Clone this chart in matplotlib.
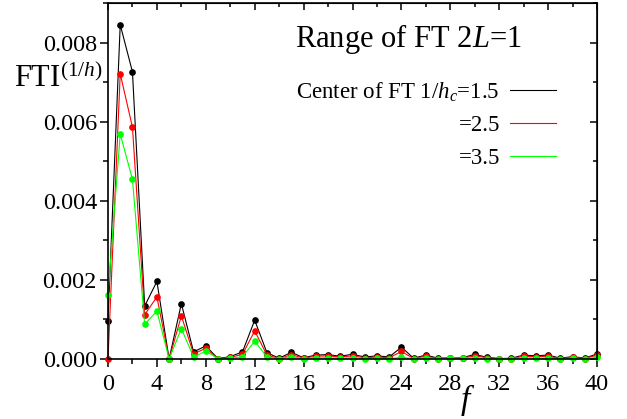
import matplotlib
matplotlib.use("Agg")
import matplotlib.pyplot as plt
from matplotlib.lines import Line2D
from matplotlib.ticker import MultipleLocator, FormatStrFormatter

plt.rcParams['font.family'] = 'serif'
plt.rcParams['font.serif'] = ['Liberation Serif', 'DejaVu Serif']
plt.rcParams['mathtext.fontset'] = 'custom'
plt.rcParams['mathtext.rm'] = 'Liberation Serif'
plt.rcParams['mathtext.it'] = 'Liberation Serif:italic'

f = list(range(0, 41))
fti_15 = [0.00096, 0.00845, 0.00726, 0.00134, 0.00196, 0.0, 0.00140, 0.00018, 0.00033, 0.00001,
          0.00006, 0.00018, 0.00098, 0.00016, 0.00002, 0.00017, 0.00003, 0.00010, 0.00011, 0.00007,
          0.00012, 0.00005, 0.00008, 0.00005, 0.00030, 0.00002, 0.00010, 0.00002, 0.00003, 0.00003,
          0.00012, 0.00004, 0.00001, 0.00002, 0.00010, 0.00008, 0.00010, 0.00002, 0.00006, 0.00002,
          0.00013]
fti_25 = [0.0, 0.00721, 0.00586, 0.00112, 0.00157, 0.0, 0.00109, 0.00013, 0.00027, 0.00001,
          0.00004, 0.00012, 0.00071, 0.00010, 0.00001, 0.00011, 0.00002, 0.00007, 0.00008, 0.00005,
          0.00008, 0.00003, 0.00005, 0.00003, 0.00019, 0.00001, 0.00007, 0.00001, 0.00003, 0.00002,
          0.00008, 0.00003, 0.00001, 0.00001, 0.00007, 0.00006, 0.00007, 0.00001, 0.00004, 0.00001,
          0.00010]
fti_35 = [0.00163, 0.00569, 0.00454, 0.00088, 0.00121, 0.0, 0.00077, 0.00005, 0.00020, 0.00001,
          0.00002, 0.00006, 0.00045, 0.00005, 0.00001, 0.00006, 0.00001, 0.00003, 0.00003, 0.00002,
          0.00003, 0.00001, 0.00002, 0.00001, 0.00004, 0.00001, 0.00003, 0.00001, 0.00003, 0.00002,
          0.00003, 0.00001, 0.00001, 0.00001, 0.00003, 0.00002, 0.00002, 0.00001, 0.00002, 0.00001,
          0.00004]

series = [(fti_15, 'black', 'Center of FT 1/$h_c$=1.5'),
          (fti_25, '#ff0000', '=2.5'),
          (fti_35, '#00ff00', '=3.5')]

fig = plt.figure(figsize=(6.27, 4.19), dpi=100)
ax = fig.add_axes([108/627, 1-359/419, (597-108)/627, (359-3)/419])

for vals, col, lab in series:
    ax.plot(f, vals, color=col, lw=0.8, marker='o', ms=3.8, mec=col, mfc=col, clip_on=False)

ax.set_xlim(0, 40)
ax.set_ylim(0, 0.009)
ax.xaxis.set_major_locator(MultipleLocator(4))
ax.xaxis.set_minor_locator(MultipleLocator(2))
ax.yaxis.set_major_locator(MultipleLocator(0.002))
ax.yaxis.set_minor_locator(MultipleLocator(0.001))
ax.yaxis.set_major_formatter(FormatStrFormatter('%.3f'))
ax.tick_params(which='both', direction='out', labelsize=17.5, width=1.1)
ax.tick_params(axis='x', pad=5)
ax.tick_params(axis='y', pad=2)
ax.tick_params(which='major', length=6)
ax.tick_params(which='minor', length=3.5)
for s in ax.spines.values():
    s.set_linewidth(1.2)

secx = ax.secondary_xaxis('top')
secx.xaxis.set_major_locator(MultipleLocator(4))
secx.xaxis.set_minor_locator(MultipleLocator(2))
secx.tick_params(which='both', direction='in', labeltop=False, width=1.1)
secx.tick_params(which='major', length=5)
secx.tick_params(which='minor', length=3)
secy = ax.secondary_yaxis('right')
secy.yaxis.set_major_locator(MultipleLocator(0.002))
secy.yaxis.set_minor_locator(MultipleLocator(0.001))
secy.tick_params(which='both', direction='in', labelright=False, width=1.1)
secy.tick_params(which='major', length=5)
secy.tick_params(which='minor', length=3)

fig.text(468/627, 1-400/419, '$f$', fontsize=24, ha='center', va='center')
fig.text(14/627, 1-79/419, r'FTI$^{(1/h)}$', fontsize=22, ha='left', va='center')
fig.text(295/627, 1-39/419, 'Range of FT $2L$=1', fontsize=22, ha='left', va='center')

handles = [Line2D([], [], color=c, lw=0.8) for _, c, _ in series]
labels = [l for _, _, l in series]
leg = ax.legend(handles, labels, loc='upper right', bbox_to_anchor=(0.916, 0.783),
                frameon=False, markerfirst=False, fontsize=16.5,
                handlelength=2.0, handletextpad=0.45, labelspacing=0.5,
                borderaxespad=0, borderpad=0)

fig.savefig('out.png', dpi=100)
